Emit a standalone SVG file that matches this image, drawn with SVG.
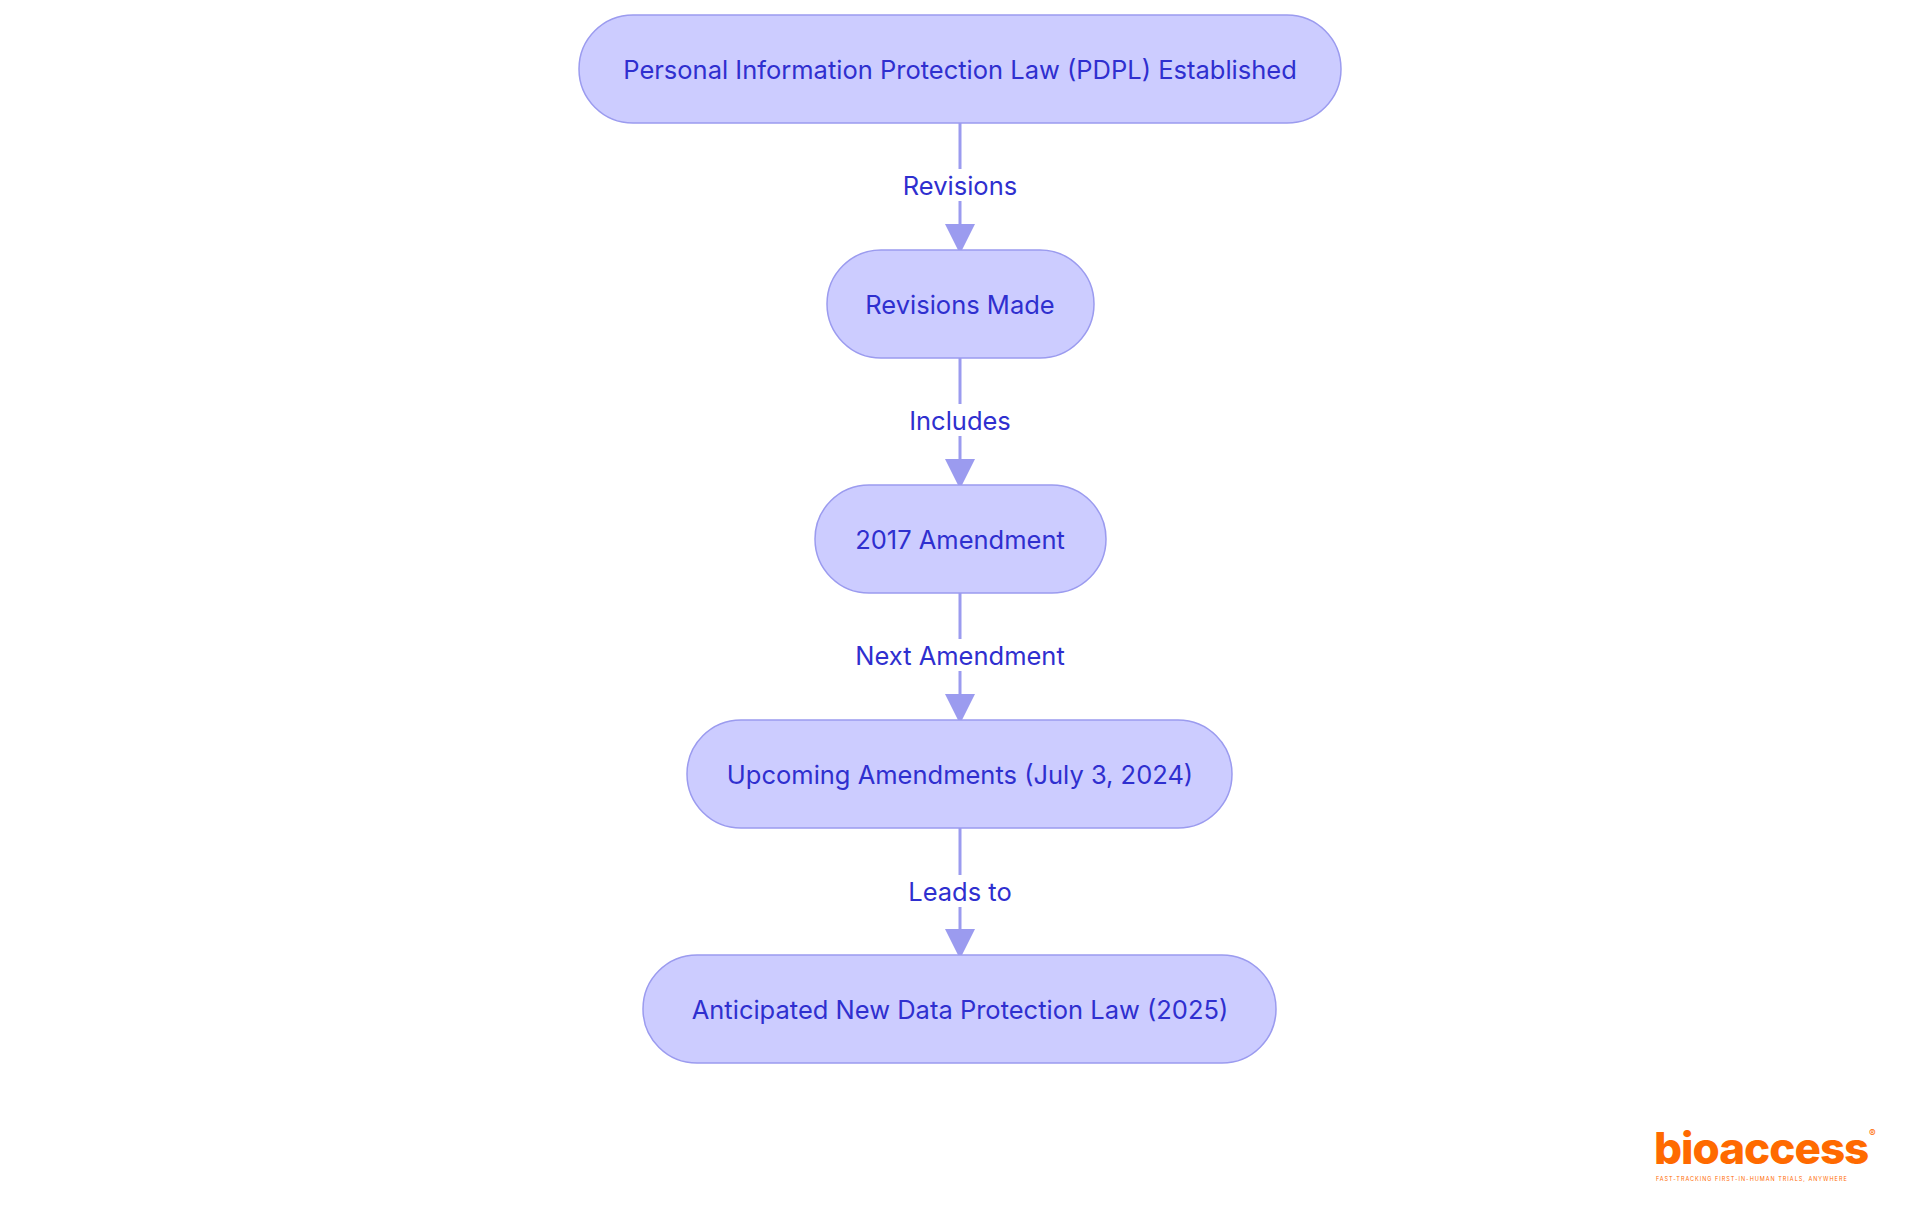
<svg xmlns="http://www.w3.org/2000/svg" width="1920" height="1215" viewBox="0 0 1920 1215">
<style>
.n rect{fill:#ccccff;stroke:#9b9bef;stroke-width:1.5}
.n text,.l{font-family:Inter,"Liberation Sans",sans-serif;font-size:25.5px;fill:#2f2fcf;text-anchor:middle;dominant-baseline:central}
.e{stroke:#9b9bef;stroke-width:3;fill:none;marker-end:url(#a)}
.lb{fill:#fff}
</style>
<defs><marker id="a" markerWidth="10" markerHeight="10" refX="8" refY="5" orient="auto" markerUnits="strokeWidth"><path d="M0,0L10,5L0,10z" fill="#9b9bef"/></marker></defs>
<rect width="1920" height="1215" fill="#fff"/>
<g id="edges">
<path class="e" d="M960,123V248"/><path class="e" d="M960,358V483"/><path class="e" d="M960,593V718"/><path class="e" d="M960,828V953"/>
<rect class="lb" x="896" y="169" width="128" height="32"/><text class="l" x="960" y="185">Revisions</text>
<rect class="lb" x="904" y="404" width="112" height="32"/><text class="l" x="960" y="420">Includes</text>
<rect class="lb" x="848" y="639" width="224" height="32"/><text class="l" x="960" y="655">Next Amendment</text>
<rect class="lb" x="902" y="875" width="116" height="32"/><text class="l" x="960" y="891">Leads to</text>
</g>
<g id="n1" class="n"><rect x="579" y="15" width="762" height="108" rx="54"/><text x="960" y="69">Personal Information Protection Law (PDPL) Established</text></g>
<g id="n2" class="n"><rect x="827" y="250" width="267" height="108" rx="54"/><text x="960" y="304">Revisions Made</text></g>
<g id="n3" class="n"><rect x="815" y="485" width="291" height="108" rx="54"/><text x="960" y="539">2017 Amendment</text></g>
<g id="n4" class="n"><rect x="687" y="720" width="545" height="108" rx="54"/><text x="960" y="774">Upcoming Amendments (July 3, 2024)</text></g>
<g id="n5" class="n"><rect x="643" y="955" width="633" height="108" rx="54"/><text x="960" y="1009">Anticipated New Data Protection Law (2025)</text></g>
<g id="logo">
<text x="1654" y="1164" font-family="Inter,'Liberation Sans',sans-serif" font-weight="800" font-size="44" fill="#ff6a00" letter-spacing="-1">bioaccess</text>
<text x="1869" y="1137" font-family="Inter,'Liberation Sans',sans-serif" font-size="10" fill="#ff6a00">®</text>
<text x="1656" y="1181" font-family="Inter,'Liberation Sans',sans-serif" font-size="5.5" fill="#ff6a00" letter-spacing="1">FAST-TRACKING FIRST-IN-HUMAN TRIALS, ANYWHERE</text>
</g>
</svg>
